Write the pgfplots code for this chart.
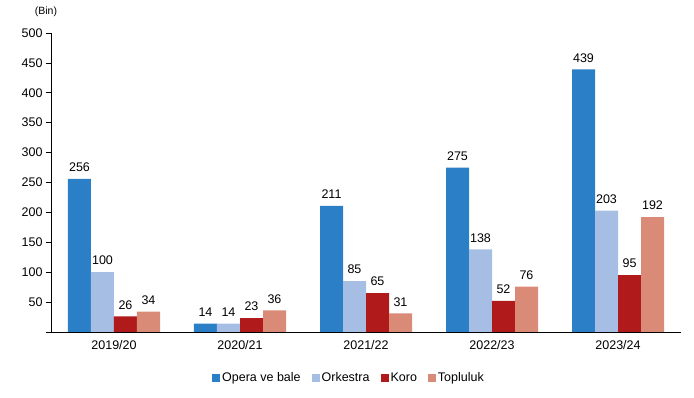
\documentclass[border=0pt]{standalone}
\usepackage{pgfplots}
\pgfplotsset{compat=1.18}
\usepackage{fontspec}
\setmainfont{Liberation Sans}
\definecolor{cOpera}{HTML}{2A7FC6}
\definecolor{cOrk}{HTML}{A6BEE3}
\definecolor{cKoro}{HTML}{B01A1A}
\definecolor{cTop}{HTML}{D98B78}
\pgfplotsset{sq/.style={fill=#1,draw=none,legend image code/.code={\fill[#1] (0pt,-4pt) rectangle (8pt,4pt);}}}
\begin{document}
\begin{tikzpicture}
\useasboundingbox (-51pt,-66pt) rectangle (643pt,332pt);
\begin{axis}[
  scale only axis, width=630pt, height=299pt,
  ybar=0pt, bar width=23pt,
  xmin=-0.5, xmax=4.5, ymin=0, ymax=500,
  axis x line*=bottom, axis y line*=left,
  axis line style={black, line width=0.6pt},
  xtick={0,1,2,3,4},
  xticklabels={2019/20,2020/21,2021/22,2022/23,2023/24},
  major x tick style={draw=none},
  extra x ticks={-0.5,0.5,1.5,2.5,3.5,4.5},
  extra x tick labels={},
  extra x tick style={tick style={black,line width=0.6pt}, tick align=outside, major tick length=5pt},
  ytick={0,50,...,500},
  yticklabels={,50,100,150,200,250,300,350,400,450,500},
  tick align=outside, major tick length=5pt,
  tick style={black,line width=0.6pt},
  ticklabel style={font=\fontsize{12.5}{14}\selectfont},
  /pgf/number format/assume math mode=true,
  nodes near coords,
  nodes near coords style={font=\fontsize{12.5}{14}\selectfont, black, inner sep=2pt, yshift=5pt},
  legend style={draw=none, at={(0.473,-0.154)}, anchor=center, legend columns=-1,
    font=\fontsize{12.5}{14}\selectfont,
    /tikz/every even column/.append style={column sep=9pt}},
  legend cell align=left,
  clip=false,
]
\addplot[sq=cOpera] coordinates {(0,256) (1,14) (2,211) (3,275) (4,439)};
\addplot[sq=cOrk] coordinates {(0,100) (1,14) (2,85) (3,138) (4,203)};
\addplot[sq=cKoro] coordinates {(0,26) (1,23) (2,65) (3,52) (4,95)};
\addplot[sq=cTop] coordinates {(0,34) (1,36) (2,31) (3,76) (4,192)};
\legend{Opera ve bale,Orkestra,Koro,Topluluk}
\end{axis}
\node[font=\fontsize{10.5}{12}\selectfont] at (-5pt,320pt) {(Bin)};
\end{tikzpicture}
\end{document}
